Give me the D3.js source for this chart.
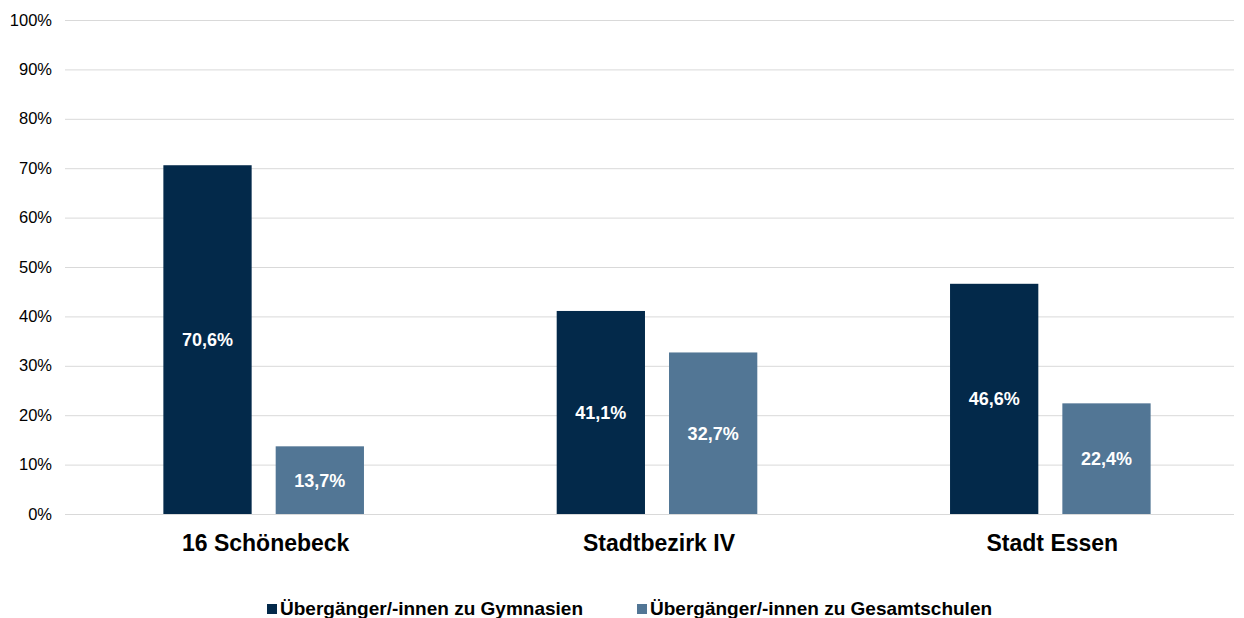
<!DOCTYPE html>
<html>
<head>
<meta charset="utf-8">
<script src="https://cdn.jsdelivr.net/npm/d3@7"></script>
<style>
  body { margin: 0; background: #fff; }
  svg { font-family: "Liberation Sans", Arial, sans-serif; }
</style>
</head>
<body>
<div id="chart"></div>
<script>
// data
var categories = ["16 Schönebeck", "Stadtbezirk IV", "Stadt Essen"];
var seriesNames = ["Übergänger/-innen zu Gymnasien", "Übergänger/-innen zu Gesamtschulen"];
var gymnasien = [70.6, 41.1, 46.6];
var gesamtschulen = [13.7, 32.7, 22.4];
var yTicks = [0, 10, 20, 30, 40, 50, 60, 70, 80, 90, 100];

var colors = ["#03294a", "#527695"];
var width = 1244, height = 618;

var svg = d3.select("#chart").append("svg")
    .attr("width", width)
    .attr("height", height);

var y = d3.scaleLinear().domain([0, 100]).range([514, 20]);

var x0 = d3.scaleBand().domain(categories)
    .range([67, 1247])
    .paddingInner(0.49)
    .paddingOuter(0.245);

var x1 = d3.scaleBand().domain([0, 1])
    .range([0, x0.bandwidth()])
    .paddingInner(0.214);

// gridlines + tick labels
var grid = svg.append("g");
grid.selectAll("line").data(yTicks).enter().append("line")
    .attr("x1", 65).attr("x2", 1234)
    .attr("y1", function(d) { return y(d) + 0.5; })
    .attr("y2", function(d) { return y(d) + 0.5; })
    .style("stroke", "#d9d9d9")
    .style("stroke-width", 1);

grid.selectAll("text").data(yTicks).enter().append("text")
    .attr("x", 52)
    .attr("y", function(d) { return y(d) + 5.5; })
    .style("text-anchor", "end")
    .style("font-size", "16.5px")
    .style("fill", "#000")
    .text(function(d) { return d + "%"; });

// bars
var rows = categories.map(function(c, i) {
  return { cat: c, values: [gymnasien[i], gesamtschulen[i]] };
});

var fmt = function(v) { return d3.format(".1f")(v).replace(".", ",") + "%"; };

var groups = svg.selectAll(".grp").data(rows).enter().append("g")
    .attr("class", "grp")
    .attr("transform", function(d) { return "translate(" + x0(d.cat) + ",0)"; });

groups.selectAll("rect").data(function(d) { return d.values; }).enter().append("rect")
    .attr("x", function(d, i) { return x1(i); })
    .attr("width", x1.bandwidth())
    .attr("y", function(d) { return y(d); })
    .attr("height", function(d) { return y(0) - y(d); })
    .style("fill", function(d, i) { return colors[i]; });

groups.selectAll("text.val").data(function(d) { return d.values; }).enter().append("text")
    .attr("class", "val")
    .attr("x", function(d, i) { return x1(i) + x1.bandwidth() / 2; })
    .attr("y", function(d) { return (y(d) + y(0)) / 2 + 6.5; })
    .style("text-anchor", "middle")
    .style("font-size", "18px")
    .style("font-weight", "bold")
    .style("fill", "#fff")
    .text(fmt);

// category labels
svg.selectAll("text.cat").data(categories).enter().append("text")
    .attr("class", "cat")
    .attr("x", function(d) { return x0(d) + x0.bandwidth() / 2 + 2; })
    .attr("y", 551)
    .style("text-anchor", "middle")
    .style("font-size", "23px")
    .style("font-weight", "bold")
    .text(function(d) { return d; });

// legend
var legendX = [267, 637];
var legend = svg.selectAll(".leg").data(seriesNames).enter().append("g")
    .attr("class", "leg")
    .attr("transform", function(d, i) { return "translate(" + legendX[i] + ",604)"; });

legend.append("rect")
    .attr("width", 10).attr("height", 10)
    .style("fill", function(d, i) { return colors[i]; });

legend.append("text")
    .attr("x", 13)
    .attr("y", 10.5)
    .style("font-size", "19px")
    .style("font-weight", "bold")
    .text(function(d) { return d; });
</script>
</body>
</html>
